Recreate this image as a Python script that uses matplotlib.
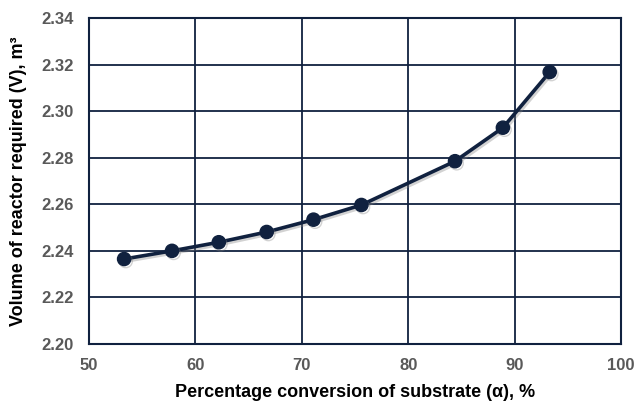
import matplotlib
matplotlib.use("Agg")
import matplotlib.pyplot as plt
import matplotlib.patheffects as pe

conversion = [53.3, 57.8, 62.2, 66.7, 71.1, 75.6, 84.4, 88.9, 93.3]
volume = [2.2365, 2.2400, 2.2437, 2.2481, 2.2534, 2.2597, 2.2785, 2.2929, 2.3168]
xticks = [50, 60, 70, 80, 90, 100]
yticks = [2.20, 2.22, 2.24, 2.26, 2.28, 2.30, 2.32, 2.34]

plt.rcParams['font.family'] = ['Liberation Sans', 'DejaVu Sans']
navy = '#10213f'

fig = plt.figure(figsize=(6.37, 4.07), dpi=100)
ax = fig.add_axes([89/637, 1-344/407, (621-89)/637, (344-18)/407])

ax.plot(conversion, volume, color=navy, lw=2.6, marker='o', ms=9.5, zorder=3,
        path_effects=[pe.SimpleLineShadow(offset=(1.2, -1.5), shadow_color='gray', alpha=0.35), pe.Normal()])

ax.set_xlim(50, 100)
ax.set_ylim(2.20, 2.34)
ax.set_xticks(xticks)
ax.set_yticks(yticks)
ax.set_xticklabels([str(t) for t in xticks])
ax.set_yticklabels([f"{t:.2f}" for t in yticks])
ax.grid(True, color=navy, lw=1.3)
ax.set_axisbelow(True)
for s in ax.spines.values():
    s.set_color(navy)
    s.set_linewidth(1.5)
ax.tick_params(axis='y', length=0, pad=11, labelsize=12, labelcolor='#595959')
ax.tick_params(axis='x', length=0, pad=10, labelsize=12, labelcolor='#595959')
for lab in ax.get_xticklabels() + ax.get_yticklabels():
    lab.set_fontweight('bold')

ax.set_xlabel('Percentage conversion of substrate (α), %', fontsize=13, fontweight='bold', labelpad=8)
ax.set_ylabel('Volume of reactor required (V), m³', fontsize=13, fontweight='bold', labelpad=10)

fig.savefig('out.png', dpi=100)
